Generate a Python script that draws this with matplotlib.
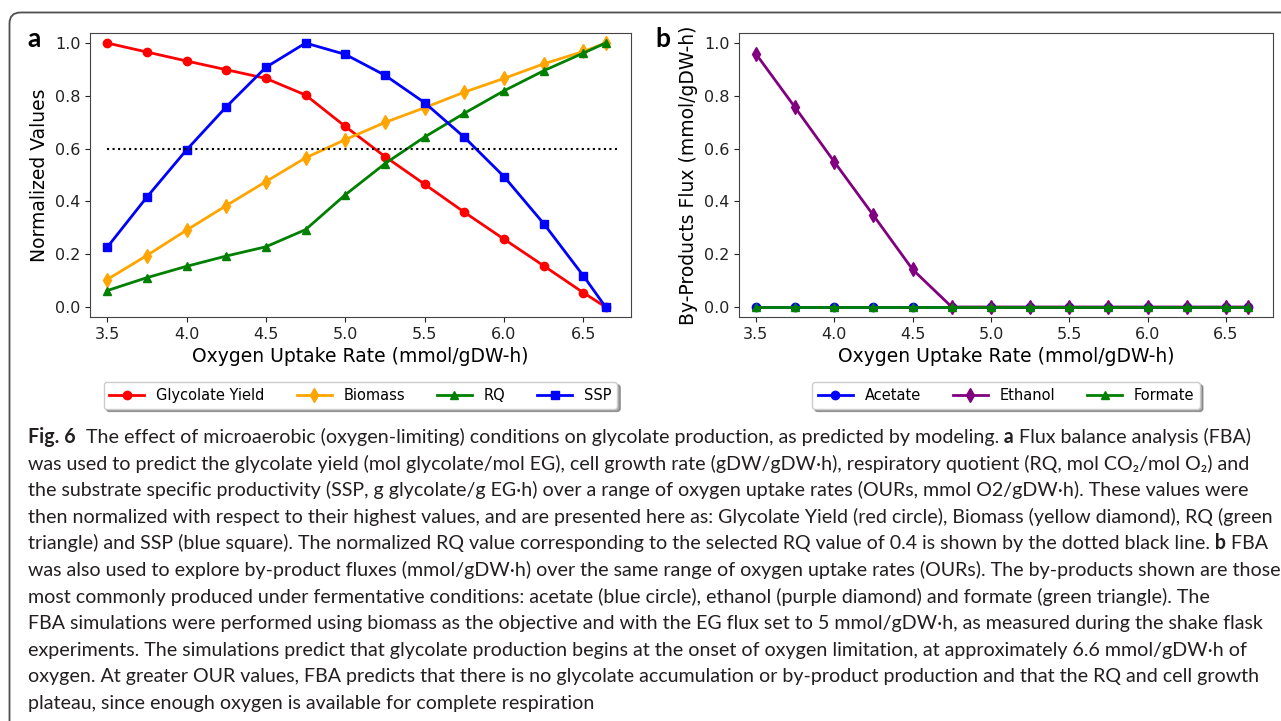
import matplotlib

matplotlib.use("Agg")

import matplotlib.pyplot as plt
import numpy as np
from matplotlib.patches import FancyBboxPatch
from matplotlib.transforms import IdentityTransform

# oxygen uptake rate (mmol/gDW-h)
our = [3.5, 3.75, 4.0, 4.25, 4.5, 4.75, 5.0, 5.25, 5.5, 5.75, 6.0, 6.25, 6.5, 6.64]

# panel a: normalized values
glycolate_yield = [1.0, 0.966, 0.932, 0.899, 0.866, 0.803, 0.684, 0.570, 0.465, 0.359, 0.257, 0.156, 0.054, 0.0]
biomass = [0.104, 0.195, 0.291, 0.384, 0.475, 0.565, 0.634, 0.699, 0.755, 0.814, 0.866, 0.921, 0.968, 1.0]
rq = [0.062, 0.111, 0.154, 0.193, 0.228, 0.293, 0.425, 0.543, 0.644, 0.734, 0.819, 0.895, 0.962, 1.0]
ssp = [0.226, 0.416, 0.595, 0.758, 0.908, 1.0, 0.957, 0.878, 0.774, 0.643, 0.494, 0.316, 0.118, 0.0]
rq_selected = 0.6

# panel b: by-product fluxes (mmol/gDW-h)
acetate = [0.0] * 14
ethanol = [0.959, 0.756, 0.550, 0.347, 0.142, 0.0, 0.0, 0.0, 0.0, 0.0, 0.0, 0.0, 0.0, 0.0]
formate = [0.0] * 14

xticks = [3.5, 4.0, 4.5, 5.0, 5.5, 6.0, 6.5]
yticks = [0.0, 0.2, 0.4, 0.6, 0.8, 1.0]

caption_lines = [
    [("Fig. 6", True),
     ("  The effect of microaerobic (oxygen-limiting) conditions on glycolate production, as predicted by modeling.", False),
     (" a", True), (" Flux balance analysis (FBA)", False)],
    [("was used to predict the glycolate yield (mol glycolate/mol EG), cell growth rate (gDW/gDW\u00b7h), "
      "respiratory quotient (RQ, mol CO\u2082/mol O\u2082) and", False)],
    [("the substrate specific productivity (SSP, g glycolate/g EG\u00b7h) over a range of oxygen uptake rates "
      "(OURs, mmol O2/gDW\u00b7h). These values were", False)],
    [("then normalized with respect to their highest values, and are presented here as: Glycolate Yield "
      "(red circle), Biomass (yellow diamond), RQ (green", False)],
    [("triangle) and SSP (blue square). The normalized RQ value corresponding to the selected RQ value of 0.4 "
      "is shown by the dotted black line.", False), (" b", True), (" FBA", False)],
    [("was also used to explore by-product fluxes (mmol/gDW\u00b7h) over the same range of oxygen uptake rates "
      "(OURs). The by-products shown are those", False)],
    [("most commonly produced under fermentative conditions: acetate (blue circle), ethanol (purple diamond) "
      "and formate (green triangle). The", False)],
    [("FBA simulations were performed using biomass as the objective and with the EG flux set to 5 mmol/gDW\u00b7h, "
      "as measured during the shake flask", False)],
    [("experiments. The simulations predict that glycolate production begins at the onset of oxygen limitation, "
      "at approximately 6.6 mmol/gDW\u00b7h of", False)],
    [("oxygen. At greater OUR values, FBA predicts that there is no glycolate accumulation or by-product "
      "production and that the RQ and cell growth", False)],
    [("plateau, since enough oxygen is available for complete respiration", False)],
]
# right end (px) of the full-width caption lines
caption_ends = [1268, 1241, 1218, 1266, 1265, 1272, 1225, 1262, 1240, 1245, None]

W, H = 1281, 721
CAPTION_FONT = ["Lato", "Noto Sans", "DejaVu Sans"]

fig = plt.figure(figsize=(W / 100, H / 100), dpi=100)
fig.patch.set_facecolor("white")

# rounded frame around the figure
frame = FancyBboxPatch((9.5, -60), 1400, 721 - 12.5 + 60, boxstyle="round,pad=0,rounding_size=11",
                       transform=IdentityTransform(), facecolor="none", edgecolor="#4d4d4d", linewidth=1.3)
fig.add_artist(frame)

ax_a = fig.add_axes([90 / W, 1 - 317 / H, (631 - 90) / W, (317 - 33) / H])
ax_b = fig.add_axes([739 / W, 1 - 317 / H, (1273 - 739) / W, (317 - 33) / H])

lw, ms = 2.0, 6
ax_a.plot(our, glycolate_yield, "-o", color="red", lw=lw, ms=ms, label="Glycolate Yield")
ax_a.plot(our, biomass, "-d", color="orange", lw=lw, ms=ms + 1, label="Biomass")
ax_a.plot(our, rq, "-^", color="green", lw=lw, ms=ms, label="RQ")
ax_a.plot(our, ssp, "-s", color="blue", lw=lw, ms=ms, label="SSP")
ax_a.hlines(rq_selected, 3.5, 6.73, colors="black", linestyles=":", lw=1.5)
ax_a.set_ylabel("Normalized Values", fontsize=13.5)

ax_b.plot(our, acetate, "-o", color="blue", lw=lw, ms=ms, label="Acetate")
ax_b.plot(our, ethanol, "-d", color="purple", lw=lw, ms=ms + 1, label="Ethanol")
ax_b.plot(our, formate, "-^", color="green", lw=lw, ms=ms, label="Formate")
ax_b.set_ylabel("By-Products Flux (mmol/gDW-h)", fontsize=13.5)

for ax, ncol in ((ax_a, 4), (ax_b, 3)):
    ax.set_xlim(3.392, 6.80)
    ax.set_ylim(-0.038, 1.038)
    ax.set_xticks(xticks)
    ax.set_yticks(yticks)
    ax.tick_params(labelsize=11.5, colors="#222222")
    ax.set_xlabel("Oxygen Uptake Rate (mmol/gDW-h)", fontsize=13.5)
    for sp in ax.spines.values():
        sp.set_color("#444444")
    box = ax.get_position()
    ax.legend(loc="upper center", bbox_to_anchor=((box.x0 + box.x1) / 2, 1 - 382 / H),
              bbox_transform=fig.transFigure, borderaxespad=0, ncol=ncol, shadow=True,
              fontsize=10.5, handlelength=2.4, columnspacing=2.2)

fig.text(27 / W, 1 - 47 / H, "a", fontsize=19, fontweight="bold", family=CAPTION_FONT, va="baseline")
fig.text(655 / W, 1 - 47 / H, "b", fontsize=19, fontweight="bold", family=CAPTION_FONT, va="baseline")


def draw_caption(size, x0=28, first_baseline=443, step=26.6):
    """Write the caption line by line, segment by segment; return the right end of each line."""
    renderer = fig.canvas.get_renderer()
    texts, ends = [], []
    for i, segments in enumerate(caption_lines):
        x = x0
        y = H - (first_baseline + i * step)
        for text, bold in segments:
            t = fig.text(x / W, y / H, text, fontsize=size, family=CAPTION_FONT,
                         fontweight="bold" if bold else "normal", va="baseline", ha="left", color="#231f20")
            x = t.get_window_extent(renderer).x1
            texts.append(t)
        ends.append(x)
    return texts, ends


base = 11.0
texts, ends = draw_caption(base)
ratios = [(e_ref - 28) / (e - 28) for e_ref, e in zip(caption_ends, ends) if e_ref is not None]
for t in texts:
    t.remove()
draw_caption(base * float(np.median(ratios)))

fig.savefig("out.png", dpi=100)
